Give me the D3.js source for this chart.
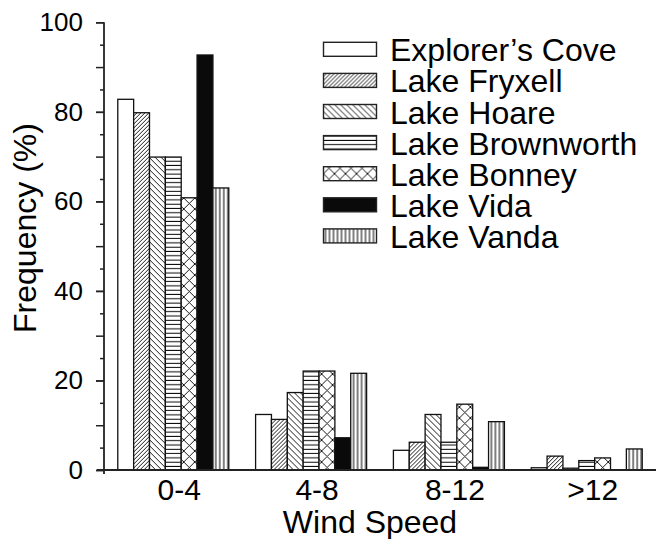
<!DOCTYPE html>
<html>
<head>
<meta charset="utf-8">
<script src="https://cdn.jsdelivr.net/npm/d3@7/dist/d3.min.js"></script>
<style>
  html, body { margin: 0; padding: 0; background: #fff; }
  svg { display: block; font-family: "Liberation Sans", Arial, Helvetica, sans-serif; }
</style>
</head>
<body>
<svg id="chart" width="661" height="539"></svg>
<script>
const categories = ["0-4", "4-8", "8-12", ">12"];
const seriesNames = ["Explorer\u2019s Cove", "Lake Fryxell", "Lake Hoare", "Lake Brownworth", "Lake Bonney", "Lake Vida", "Lake Vanda"];
const explorersCove = [82.8, 12.4, 4.4, 0.5];
const lakeFryxell   = [79.8, 11.3, 6.2, 3.1];
const lakeHoare     = [69.9, 17.3, 12.4, 0.4];
const lakeBrownworth= [69.9, 22.1, 6.2, 2.1];
const lakeBonney    = [60.8, 22.1, 14.7, 2.7];
const lakeVida      = [92.7, 7.2, 0.6, 0];
const lakeVanda     = [63.0, 21.6, 10.8, 4.7];
const yTickLabels = [0, 20, 40, 60, 80, 100];

const seriesValues = [explorersCove, lakeFryxell, lakeHoare, lakeBrownworth, lakeBonney, lakeVida, lakeVanda];
const fills = ["#fff", "url(#p-fryxell)", "url(#p-hoare)", "url(#p-brown)", "url(#p-bonney)", "#0a0a0a", "url(#p-vanda)"];

const svg = d3.select("#chart");
const defs = svg.append("defs");

function pat(id, w, h, d, sw) {
  const p = defs.append("pattern").attr("id", id).attr("patternUnits", "userSpaceOnUse")
    .attr("width", w).attr("height", h);
  p.append("rect").attr("width", w).attr("height", h).attr("fill", "#fff");
  p.append("path").attr("d", d).attr("stroke", "#000").attr("stroke-width", sw).attr("fill", "none");
}
pat("p-fryxell", 4, 4, "M0,4 L4,0 M-1,1 L1,-1 M3,5 L5,3", 0.9);
pat("p-hoare", 6, 6, "M0,0 L6,6 M-1,5 L1,7 M5,-1 L7,1", 0.9);
pat("p-brown", 4, 4.3, "M0,2.1 L4,2.1", 1);
pat("p-bonney", 11, 11, "M0,0 L11,11 M11,0 L0,11", 0.9);
pat("p-vanda", 4, 4, "M2,0 L2,4", 1);

const x0 = d3.scaleBand().domain(categories).range([104, 656]).paddingInner(0.1945).paddingOuter(0.1);
const x1 = d3.scaleBand().domain(seriesNames).range([0, x0.bandwidth()]).padding(0);
const y = d3.scaleLinear().domain([0, 100]).range([470, 22.3]);

// bars
const groups = svg.append("g").selectAll("g").data(categories).join("g")
  .attr("transform", d => `translate(${x0(d)},0)`);
groups.selectAll("rect")
  .data((c, ci) => seriesNames.map((s, si) => ({ s, si, v: seriesValues[si][ci] })))
  .join("rect")
  .filter(d => d.v > 0)
  .attr("x", d => x1(d.s))
  .attr("y", d => y(d.v))
  .attr("width", x1.bandwidth())
  .attr("height", d => y(0) - y(d.v))
  .attr("fill", d => fills[d.si])
  .attr("stroke", "#111")
  .attr("stroke-width", 1.3);

// y axis
const yAxisG = svg.append("g").attr("transform", "translate(104,0)");
yAxisG.append("g").call(d3.axisLeft(y).tickValues(d3.range(5, 100, 10)).tickSize(4).tickFormat(""))
  .call(g => g.select(".domain").remove());
yAxisG.append("g").call(d3.axisLeft(y).tickValues(d3.range(0, 101, 10)).tickSize(8).tickFormat(""))
  .call(g => g.select(".domain").remove());
yAxisG.append("g").call(d3.axisLeft(y).tickValues(yTickLabels).tickSize(8).tickPadding(13))
  .call(g => g.select(".domain").remove())
  .call(g => g.selectAll("text").attr("font-size", 26).attr("fill", "#000").style("font-family", "Liberation Sans, Arial, sans-serif"));
yAxisG.selectAll("line").attr("stroke", "#222").attr("stroke-width", 1.5);
yAxisG.append("line").attr("x1", 0).attr("x2", 0).attr("y1", y(100)).attr("y2", 474)
  .attr("stroke", "#222").attr("stroke-width", 1.8);

// x axis
const xAxisG = svg.append("g").attr("transform", "translate(0,470)")
  .call(d3.axisBottom(x0).tickSize(0).tickPadding(9));
xAxisG.select(".domain").remove();
xAxisG.selectAll("text").attr("font-size", 30).attr("fill", "#000").attr("dx", 6)
  .style("font-family", "Liberation Sans, Arial, sans-serif");
svg.append("line").attr("x1", 97).attr("x2", 656).attr("y1", 470).attr("y2", 470)
  .attr("stroke", "#222").attr("stroke-width", 2);

// axis titles
svg.append("text").attr("x", 370).attr("y", 533).attr("text-anchor", "middle")
  .attr("font-size", 32).text("Wind Speed");
svg.append("text").attr("transform", "translate(36,228) rotate(-90)").attr("text-anchor", "middle")
  .attr("font-size", 32).text("Frequency (%)");

// legend
const legend = svg.append("g").selectAll("g").data(seriesNames).join("g")
  .attr("transform", (d, i) => `translate(323.5,${49.3 + 31.1 * i})`);
legend.append("rect").attr("x", 0).attr("y", -7).attr("width", 53).attr("height", 14)
  .attr("fill", (d, i) => fills[i]).attr("stroke", "#222").attr("stroke-width", 1.4);
legend.append("text").attr("x", 66.5).attr("y", 12).attr("font-size", 32).attr("fill", "#000").text(d => d);
</script>
</body>
</html>
